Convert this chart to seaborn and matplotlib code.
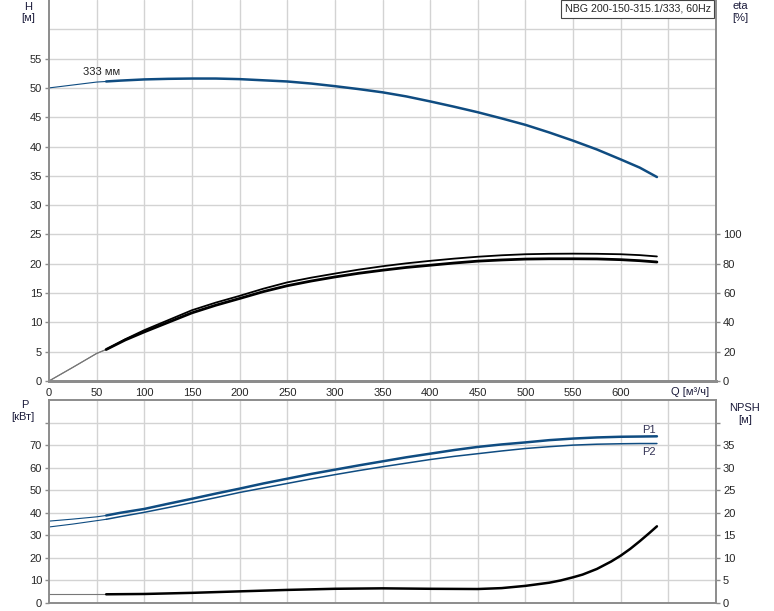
import numpy as np
import pandas as pd
import matplotlib
matplotlib.use("Agg")
import matplotlib.pyplot as plt
import seaborn as sns

# --- data ---
q_head = [0, 25, 50, 60, 75, 100, 125, 150, 175, 200, 225, 250, 275, 300, 325, 350,
          375, 400, 425, 450, 475, 500, 525, 550, 575, 600, 620, 638]
head = [50.0, 50.5, 51.0, 51.1, 51.25, 51.45, 51.55, 51.6, 51.6, 51.5, 51.3, 51.1, 50.75,
        50.3, 49.8, 49.25, 48.55, 47.7, 46.8, 45.85, 44.8, 43.7, 42.4, 41.0, 39.5, 37.8,
        36.4, 34.8]

q_eta = [0, 25, 50, 60, 80, 100, 125, 150, 175, 200, 225, 250, 275, 300, 325, 350, 375,
         400, 425, 450, 475, 500, 525, 550, 575, 600, 620, 638]
eta_upper = [0, 9.3, 18.8, 21.5, 28.5, 34.7, 41.5, 48.3, 53.5, 58.1, 63.0, 67.3, 70.5, 73.3,
             76.0, 78.3, 80.3, 82.0, 83.5, 84.8, 85.8, 86.5, 86.8, 86.9, 86.8, 86.5, 85.9, 85.0]
eta_lower = [0, 9.3, 18.8, 21.5, 28.0, 33.5, 40.0, 46.5, 51.7, 56.3, 61.0, 65.0, 68.2, 71.0,
             73.5, 75.6, 77.5, 79.0, 80.5, 81.8, 82.6, 83.2, 83.4, 83.4, 83.3, 82.8, 82.1, 81.2]

q_pow = [0, 25, 50, 60, 75, 100, 125, 150, 175, 200, 225, 250, 275, 300, 325, 350, 375,
         400, 425, 450, 475, 500, 525, 550, 575, 600, 620, 638]
p1 = [36.3, 37.2, 38.2, 38.8, 40.0, 41.7, 44.0, 46.2, 48.5, 50.7, 53.0, 55.1, 57.2, 59.1,
      61.0, 62.8, 64.6, 66.2, 67.8, 69.2, 70.3, 71.2, 72.2, 72.9, 73.4, 73.7, 73.8, 73.9]
p2 = [33.7, 35.0, 36.5, 37.1, 38.3, 40.2, 42.3, 44.5, 46.7, 49.0, 51.0, 53.0, 55.0, 56.9,
      58.7, 60.4, 62.0, 63.6, 65.0, 66.2, 67.4, 68.5, 69.3, 70.0, 70.4, 70.6, 70.7, 70.7]

q_npsh = [0, 60, 100, 150, 200, 250, 300, 350, 400, 450, 475, 500, 525, 537, 550, 560,
          575, 590, 600, 610, 620, 630, 638]
npsh = [1.93, 1.93, 2.0, 2.25, 2.58, 2.9, 3.15, 3.25, 3.15, 3.1, 3.3, 3.8, 4.5, 5.0, 5.7,
        6.3, 7.55, 9.2, 10.5, 12.0, 13.7, 15.5, 17.0]

q_start = 60  # duty range starts here: thin line before, thick after

blue = "#0f4c81"
grid_c = "#d3d3d3"
spine_c = "#8c8c8c"

sns.set_style("white")
plt.rcParams["font.family"] = ["Liberation Sans", "DejaVu Sans"]
plt.rcParams["font.size"] = 8


def draw(ax, q, y, color, lw, thin_color=None):
    df = pd.DataFrame({"q": q, "y": y})
    thin = df[df.q <= q_start]
    thick = df[df.q >= q_start]
    sns.lineplot(data=thin, x="q", y="y", ax=ax, color=thin_color or color,
                 linewidth=0.8, sort=False, estimator=None)
    sns.lineplot(data=thick, x="q", y="y", ax=ax, color=color,
                 linewidth=lw, sort=False, estimator=None)


fig = plt.figure(figsize=(7.74, 6.11), dpi=100)
ax_h = fig.add_axes([49 / 774, 1 - 381 / 611, 667 / 774, 381 / 611])
ax_p = fig.add_axes([49 / 774, 1 - 603 / 611, 667 / 774, 203 / 611])
ax_eta = ax_h.twinx()
ax_npsh = ax_p.twinx()

xt = list(range(0, 700, 50))

# top panel: head + efficiency
ax_h.set_xlim(0, 700)
ax_h.set_ylim(0, 65)
ax_h.set_xticks(xt)
ax_h.set_xticklabels([str(v) if v < 650 else "" for v in xt])
ax_h.set_yticks(range(0, 60, 5))
for v in xt[1:]:
    ax_h.axvline(v, color=grid_c, lw=1, zorder=0)
for v in range(5, 65, 5):
    ax_h.axhline(v, color=grid_c, lw=1, zorder=0)

draw(ax_h, q_head, head, blue, 1.8)
ax_h.text(36, 51.8, "333 мм", ha="left", va="bottom", color="#222222")
ax_h.text(0.992, 0.99, "NBG 200-150-315.1/333, 60Hz", transform=ax_h.transAxes,
          ha="right", va="top", fontsize=7.7,
          bbox=dict(boxstyle="square,pad=0.35", fc="white", ec="#444444", lw=0.8))

ax_eta.set_ylim(0, 260)
ax_eta.set_yticks(range(0, 120, 20))
draw(ax_eta, q_eta, eta_upper, "black", 1.3, thin_color="#777777")
draw(ax_eta, q_eta, eta_lower, "black", 2.0, thin_color="#777777")

# bottom panel: power + NPSH
ax_p.set_xlim(0, 700)
ax_p.set_ylim(0, 90)
ax_p.set_xticks(xt)
ax_p.set_xticklabels([])
ax_p.set_yticks(range(0, 90, 10))
ax_p.set_yticklabels([str(v) if v < 80 else "" for v in range(0, 90, 10)])
for v in xt[1:]:
    ax_p.axvline(v, color=grid_c, lw=1, zorder=0)
for v in range(10, 90, 10):
    ax_p.axhline(v, color=grid_c, lw=1, zorder=0)

draw(ax_p, q_pow, p1, blue, 1.8)
draw(ax_p, q_pow, p2, blue, 1.1)
ax_p.text(630, 76.6, "P1", ha="center", va="center", color="#333355")
ax_p.text(630, 66.8, "P2", ha="center", va="center", color="#333355")

ax_npsh.set_ylim(0, 45)
ax_npsh.set_yticks(range(0, 45, 5))
ax_npsh.set_yticklabels([str(v) if v < 40 else "" for v in range(0, 45, 5)])
draw(ax_npsh, q_npsh, npsh, "black", 1.8, thin_color="#777777")

for ax in (ax_h, ax_eta, ax_p, ax_npsh):
    ax.set_xlabel("")
    ax.set_ylabel("")
    ax.tick_params(direction="out", length=3, width=1, color=spine_c, pad=2,
                   labelsize=8)
    for s in ax.spines.values():
        s.set_color(spine_c)
        s.set_linewidth(1.2)
    if ax.get_legend():
        ax.get_legend().remove()
ax_p.tick_params(axis="x", length=0)
for ax in (ax_h, ax_eta):
    ax.spines["top"].set_visible(False)
    ax.spines["bottom"].set_linewidth(2)

# axis titles
tc = "#1a1a3a"
fig.text(28 / 774, 1 - 7 / 611, "H", ha="center", va="center", color=tc)
fig.text(28 / 774, 1 - 18 / 611, "[м]", ha="center", va="center", color=tc)
fig.text(740 / 774, 1 - 6 / 611, "eta", ha="center", va="center", color=tc)
fig.text(740 / 774, 1 - 18 / 611, "[%]", ha="center", va="center", color=tc)
fig.text(690 / 774, 1 - 392 / 611, "Q [м³/ч]", ha="center", va="center", color=tc)
fig.text(25 / 774, 1 - 405 / 611, "P", ha="center", va="center", color=tc)
fig.text(23 / 774, 1 - 417 / 611, "[кВт]", ha="center", va="center", color=tc)
fig.text(745 / 774, 1 - 408 / 611, "NPSH", ha="center", va="center", color=tc)
fig.text(745 / 774, 1 - 420 / 611, "[м]", ha="center", va="center", color=tc)

fig.savefig("out.png", dpi=100)
